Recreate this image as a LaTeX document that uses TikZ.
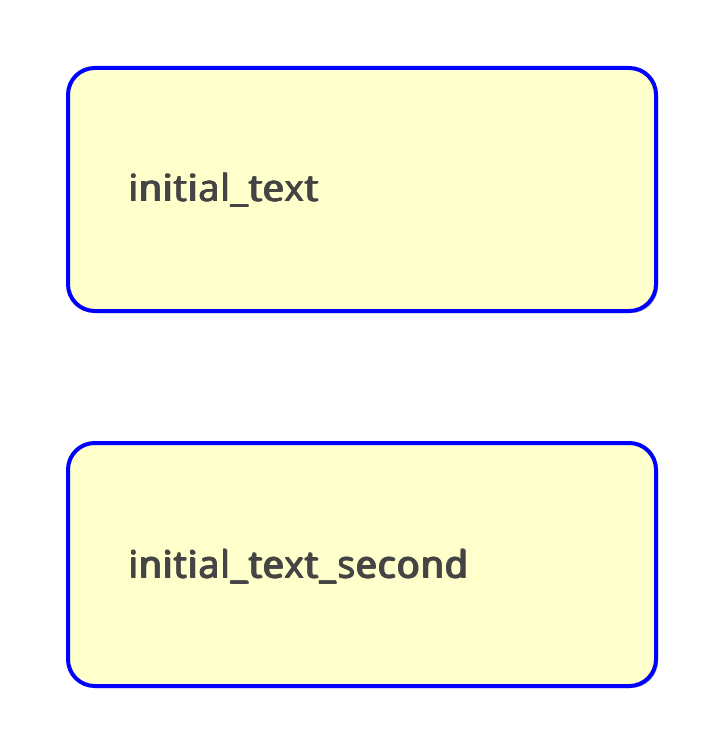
\documentclass[tikz,border=0pt]{standalone}
\usepackage{fontspec}
\newfontfamily\lblfont{Open Sans}[LetterSpace=3]
\usetikzlibrary{shadows}
\definecolor{boxfill}{HTML}{FFFFCC}
\definecolor{boxline}{HTML}{0000FF}
\definecolor{txt}{HTML}{444444}
\newcommand\heavytext[1]{\rlap{#1}\rlap{\hspace{0.55pt}#1}\rlap{\raisebox{0.4pt}{\hspace{0.55pt}#1}}\rlap{\raisebox{0.4pt}{#1}}\hspace{1.1pt}#1}
\tikzset{
  statebox/.style={draw=boxline, line width=3pt, fill=boxfill, rounded corners=20pt,
    minimum width=588*0.75pt, minimum height=243*0.75pt, anchor=north west, inner sep=0pt,
    drop shadow={shadow xshift=1.5pt, shadow yshift=-1.5pt, opacity=0.3, fill=black}},
  label/.style={anchor=base west, text=txt, font=\lblfont\fontsize{28}{34}\selectfont, inner sep=0pt}
}
\begin{document}
\begin{tikzpicture}[x=0.75pt,y=-0.75pt]
\useasboundingbox (0,0) rectangle (720,752);
\node[statebox] (b1) at (66,66) {};
\node[statebox] (b2) at (66,441) {};
\node[label] (t1) at (128,202) {\heavytext{initial\_text}};
\node[label] (t2) at (128,578) {\heavytext{initial\_text\_second}};
\end{tikzpicture}
\end{document}
